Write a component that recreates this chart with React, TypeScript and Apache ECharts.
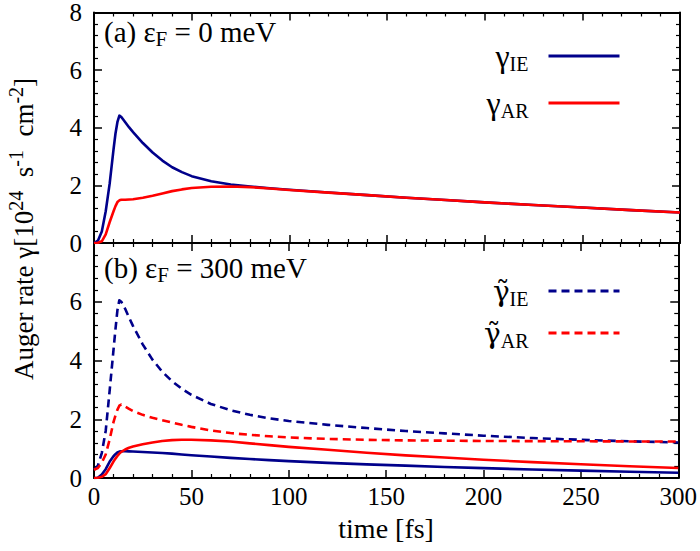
import React, { useEffect, useRef } from 'react';
import * as echarts from 'echarts';

// ---- data ----
const timeFs = [0, 2, 4, 6, 8, 10, 11, 12, 13, 14, 16, 18, 20, 25, 30, 35, 40, 45, 50, 60, 70, 80, 90, 100, 120, 140, 160, 180, 200, 225, 250, 275, 300];

// panel (a): eps_F = 0 meV
const gammaIE_a = [0, 0.08, 0.4, 1.1, 2.05, 3.25, 3.8, 4.2, 4.42, 4.37, 4.19, 4.01, 3.85, 3.47, 3.14, 2.86, 2.63, 2.46, 2.32, 2.14, 2.03, 1.96, 1.9, 1.85, 1.75, 1.66, 1.57, 1.49, 1.41, 1.32, 1.23, 1.14, 1.06];
const gammaAR_a = [0, 0.01, 0.06, 0.3, 0.72, 1.1, 1.28, 1.42, 1.48, 1.5, 1.5, 1.51, 1.52, 1.57, 1.64, 1.72, 1.8, 1.86, 1.91, 1.95, 1.96, 1.94, 1.89, 1.84, 1.75, 1.66, 1.57, 1.49, 1.41, 1.32, 1.23, 1.14, 1.06];

// panel (b): eps_F = 300 meV
const gammaIE_b = [0, 0.01, 0.12, 0.3, 0.55, 0.74, 0.81, 0.87, 0.9, 0.91, 0.91, 0.905, 0.9, 0.885, 0.87, 0.85, 0.83, 0.8, 0.775, 0.73, 0.685, 0.645, 0.61, 0.575, 0.515, 0.465, 0.42, 0.375, 0.335, 0.29, 0.25, 0.215, 0.18];
const gammaAR_b = [0, 0.01, 0.04, 0.13, 0.33, 0.56, 0.66, 0.75, 0.83, 0.89, 0.97, 1.03, 1.07, 1.15, 1.21, 1.26, 1.29, 1.3, 1.3, 1.28, 1.24, 1.18, 1.12, 1.06, 0.96, 0.86, 0.77, 0.7, 0.62, 0.54, 0.47, 0.4, 0.34];
const gammaIEt_b = [0.28, 0.42, 0.85, 1.6, 2.95, 4.35, 5.05, 5.7, 6.05, 6.0, 5.76, 5.46, 5.18, 4.55, 4.03, 3.62, 3.3, 3.04, 2.83, 2.52, 2.31, 2.15, 2.03, 1.94, 1.81, 1.7, 1.6, 1.52, 1.44, 1.36, 1.3, 1.25, 1.21];
const gammaARt_b = [0.28, 0.34, 0.52, 0.8, 1.3, 1.9, 2.12, 2.32, 2.46, 2.5, 2.43, 2.35, 2.28, 2.15, 2.05, 1.97, 1.89, 1.81, 1.74, 1.62, 1.53, 1.47, 1.42, 1.38, 1.33, 1.3, 1.28, 1.27, 1.26, 1.255, 1.25, 1.245, 1.24];

// axes
const xMin = 0, xMax = 300, xStep = 50;
const yMin = 0, yMax = 8, yStep = 2;

const FONT = 'Liberation Serif';
const FONT_G = 'DejaVu Serif';
const BLUE = '#00008b';
const RED = '#ff0000';

const pairs = (ys: number[]) => timeFs.map((t, i) => [t, ys[i]]);

export default function App() {
  const ref = useRef<HTMLDivElement>(null);
  useEffect(() => {
    if (!ref.current) return;
    const chart = echarts.init(ref.current, null, { renderer: 'svg' });

    const axisLine = { show: true, onZero: false, lineStyle: { color: '#000', width: 2 } };
    const axisTick = { show: true, inside: true, length: 8, lineStyle: { color: '#000', width: 1.5 } };
    const minorTick = { show: true, splitNumber: 5, length: 4, lineStyle: { color: '#000', width: 1.2 } };
    const tickFont = { fontFamily: FONT, fontSize: 25, color: '#000' };

    const xAx = (grid: number, pos: 'top' | 'bottom', labels: boolean, extra: any = {}) => ({
      type: 'value', gridIndex: grid, position: pos, min: xMin, max: xMax, interval: xStep,
      axisLine, axisTick, minorTick, splitLine: { show: false },
      axisLabel: { show: labels, margin: 6, ...tickFont },
      ...extra,
    });
    const yAx = (grid: number, pos: 'left' | 'right', labels: boolean, extra: any = {}) => ({
      type: 'value', gridIndex: grid, position: pos, min: yMin, max: yMax, interval: yStep,
      axisLine, axisTick, minorTick, splitLine: { show: false },
      axisLabel: { show: labels, margin: 12, ...tickFont, ...(extra.axisLabel || {}) },
    });

    const line = (name: string, ys: number[], color: string, dashed: boolean, xi: number, yi: number) => ({
      name, type: 'line', xAxisIndex: xi, yAxisIndex: yi, data: pairs(ys),
      showSymbol: false, symbol: 'none', smooth: false,
      lineStyle: { color, width: 2.6, type: dashed ? [8, 5] : 'solid', join: 'round' },
      itemStyle: { color },
      z: 3,
    });

    const legendRich = {
      g: { fontFamily: FONT, fontSize: 32, lineHeight: 36, color: '#000' },
      t: { fontFamily: FONT_G, fontSize: 28, lineHeight: 36, color: '#000' },
      s: { fontFamily: FONT, fontSize: 20, lineHeight: 18, verticalAlign: 'bottom', color: '#000' },
      sp: { width: 15, fontSize: 10 },
    };
    const legendLabel: Record<string, string> = {
      IE: '{g|γ}{s|IE}{sp| }',
      AR: '{g|γ}{s|AR}{sp| }',
      IEt: '{t|γ̃}{s|IE}{sp| }',
      ARt: '{t|γ̃}{s|AR}{sp| }',
    };
    const legendBase = {
      orient: 'vertical', align: 'right', right: 79, padding: 0,
      itemWidth: 71, itemHeight: 14, selectedMode: false,
      formatter: (n: string) => legendLabel[n] || n,
      textStyle: { fontFamily: FONT, rich: legendRich },
      lineStyle: { width: 3 },
      itemStyle: { opacity: 0, borderWidth: 0 },
    };

    const panelRich = {
      n: { fontFamily: FONT, fontSize: 29, lineHeight: 36, color: '#000' },
      s: { fontFamily: FONT, fontSize: 21, lineHeight: 20, verticalAlign: 'bottom', color: '#000' },
    };
    const ylabRich = {
      n: { fontFamily: FONT, fontSize: 27, lineHeight: 36, color: '#000' },
      p: { fontFamily: FONT, fontSize: 20, lineHeight: 19, verticalAlign: 'top', color: '#000' },
    };

    const option: any = {
      animation: false,
      backgroundColor: '#fff',
      textStyle: { fontFamily: FONT },
      grid: [
        { left: 94, right: 20, top: 9, height: 234 },
        { left: 94, right: 20, top: 243, height: 235 },
      ],
      xAxis: [
        xAx(0, 'bottom', false),
        xAx(0, 'top', false),
        xAx(1, 'bottom', true, {
          name: 'time [fs]', nameLocation: 'middle', nameGap: 36,
          nameTextStyle: { fontFamily: FONT, fontSize: 28, color: '#000' },
        }),
        xAx(1, 'top', false),
      ],
      yAxis: [
        yAx(0, 'left', true),
        yAx(0, 'right', false),
        yAx(1, 'left', true, { axisLabel: { showMaxLabel: false } }),
        yAx(1, 'right', false),
      ],
      legend: [
        { ...legendBase, data: ['IE', 'AR'], top: 40, itemGap: 13 },
        { ...legendBase, data: ['IEt', 'ARt'], top: 277, itemGap: 10 },
      ],
      series: [
        line('IE', gammaIE_a, BLUE, false, 0, 0),
        line('AR', gammaAR_a, RED, false, 0, 0),
        line('IEs', gammaIE_b, BLUE, false, 2, 2),
        line('ARs', gammaAR_b, RED, false, 2, 2),
        line('IEt', gammaIEt_b, BLUE, true, 2, 2),
        line('ARt', gammaARt_b, RED, true, 2, 2),
      ],
      graphic: [
        {
          type: 'text', left: 104, top: 17,
          style: { text: '{n|(a) ε}{s|F}{n| = 0 meV}', rich: panelRich, fontFamily: FONT },
        },
        {
          type: 'text', left: 104, top: 253,
          style: { text: '{n|(b) ε}{s|F}{n| = 300 meV}', rich: panelRich, fontFamily: FONT },
        },
        {
          type: 'text', x: 24, y: 229, rotation: Math.PI / 2,
          style: {
            text: '{n|Auger rate γ[10}{p|24}{n|  s}{p|-1}{n|  cm}{p|-2}{n|]}',
            rich: ylabRich, align: 'center', verticalAlign: 'middle', fontFamily: FONT,
          },
        },
      ],
    };
    chart.setOption(option);
    return () => chart.dispose();
  }, []);
  return (
    <div
      ref={ref}
      style={{ position: 'fixed', left: 0, top: 0, width: 700, height: 551, background: '#fff' }}
    />
  );
}
